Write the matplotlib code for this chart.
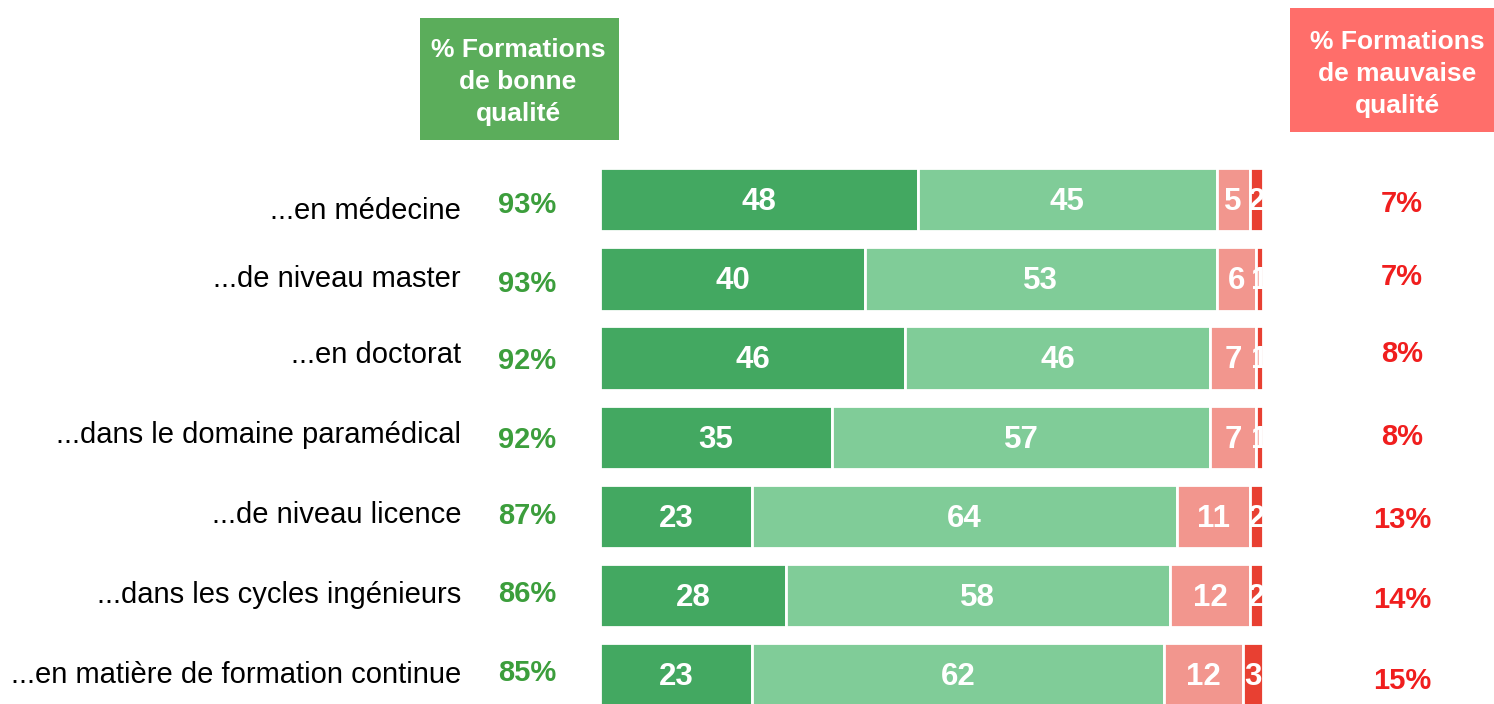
import matplotlib.pyplot as plt
from matplotlib.patches import Rectangle
import numpy as np

plt.rcParams['font.family'] = ['Liberation Sans', 'DejaVu Sans']

categories = ["...en médecine", "...de niveau master", "...en doctorat",
              "...dans le domaine paramédical", "...de niveau licence",
              "...dans les cycles ingénieurs",
              "...en matière de formation continue"]
tres_bonne = [48, 40, 46, 35, 23, 28, 23]
plutot_bonne = [45, 53, 46, 57, 64, 58, 62]
plutot_mauvaise = [5, 6, 7, 7, 11, 12, 12]
tres_mauvaise = [2, 1, 1, 1, 2, 2, 3]
pct_bonne = ["93%", "93%", "92%", "92%", "87%", "86%", "85%"]
pct_mauvaise = ["7%", "7%", "8%", "8%", "13%", "14%", "15%"]

colors = ["#43A861", "#80CC98", "#F2968E", "#E84032"]

W, H = 1494, 704
fig = plt.figure(figsize=(W / 100, H / 100), dpi=100)

# bar axes in pixel terms: x 600..1263, top 160, bottom at figure edge
ax = fig.add_axes([600 / W, 0, 663 / W, (704 - 160) / H])
ax.set_xlim(0, 100)
ax.set_ylim(6.366, -0.5)
ax.axis('off')

y = np.arange(len(categories))
left = np.zeros(len(categories))
for vals, col in zip([tres_bonne, plutot_bonne, plutot_mauvaise, tres_mauvaise], colors):
    vals = np.array(vals, dtype=float)
    ax.barh(y, vals, left=left, height=0.8, color=col, edgecolor='white', linewidth=2)
    for yi, l, v in zip(y, left, vals):
        ax.text(l + v / 2, yi + 0.03, f"{int(v)}", ha='center', va='center', color='white',
                fontsize=22.5, fontweight='bold', clip_on=True)
    left += vals

# baselines (pixels from top) of the side texts, as in the original layout
y_cat = [219, 287, 363, 443, 523, 603, 683]
y_good = [213, 292, 369, 448, 524, 602, 681]
y_bad = [212, 285, 362, 445, 528, 608, 689]

for i, cat in enumerate(categories):
    fig.text(461 / W, 1 - y_cat[i] / H, cat, ha='right', va='baseline', fontsize=21, color='black')
    fig.text(527 / W, 1 - y_good[i] / H, pct_bonne[i], ha='center', va='baseline', fontsize=21,
             fontweight='bold', color='#3C9E3C')
    fig.text(1402 / W, 1 - y_bad[i] / H, pct_mauvaise[i], ha='center', va='baseline', fontsize=21,
             fontweight='bold', color='#F01E1E')

# header boxes
fig.patches.append(Rectangle((420 / W, 1 - 140 / H), 199 / W, 122 / H,
                             transform=fig.transFigure, facecolor='#5BAD5B', edgecolor='none'))
fig.text(518 / W, 1 - 82 / H, "% Formations\nde bonne\nqualité", ha='center', va='center',
         fontsize=19, fontweight='bold', color='white', linespacing=1.42)
fig.patches.append(Rectangle((1290 / W, 1 - 132 / H), 204 / W, 124 / H,
                             transform=fig.transFigure, facecolor='#FF6E6A', edgecolor='none'))
fig.text(1397 / W, 1 - 74 / H, "% Formations\nde mauvaise\nqualité", ha='center', va='center',
         fontsize=19, fontweight='bold', color='white', linespacing=1.42)

fig.savefig("out.png", dpi=100, facecolor='white')
